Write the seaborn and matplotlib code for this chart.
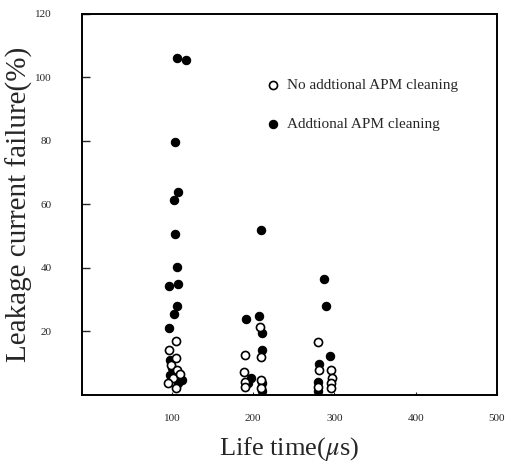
import matplotlib
matplotlib.use("Agg")
import matplotlib.pyplot as plt
import seaborn as sns
import pandas as pd

# No additional APM cleaning (open circles)
open_x = [104.9, 96.3, 104.9, 98.8, 106.2, 101.2, 95.1, 104.9, 110.0,
          208.3, 189.8, 209.5, 188.6, 189.8, 189.8, 209.5, 209.5,
          279.7, 280.9, 295.7, 296.9, 295.7, 279.7, 295.7]
open_y = [16.8, 14.0, 11.5, 9.3, 7.7, 5.2, 3.6, 2.0, 6.5,
          21.3, 12.4, 11.8, 7.1, 4.1, 2.4, 4.6, 2.0,
          16.5, 7.7, 7.7, 5.2, 3.6, 2.4, 2.0]

# Additional APM cleaning (filled circles)
fill_x = [106.2, 117.2, 103.7, 107.4, 102.5, 103.7, 106.2, 96.3, 107.4,
          106.2, 102.5, 96.3, 97.5, 100.0, 97.5, 108.6, 112.3, 107.4,
          209.5, 191.1, 207.1, 210.8, 210.8, 197.2, 193.5, 210.8, 210.8,
          287.1, 289.5, 294.5, 280.9, 279.7, 279.7]
fill_y = [106.0, 105.3, 79.5, 63.8, 61.3, 50.6, 40.2, 34.2, 34.8,
          27.9, 25.4, 21.0, 10.9, 8.3, 6.1, 5.5, 4.6, 3.6,
          51.8, 23.8, 24.7, 19.4, 14.0, 5.3, 3.6, 3.6, 1.0,
          36.4, 27.9, 12.1, 9.6, 4.0, 1.1]

x_ticks = [100, 200, 300, 400, 500]
y_ticks = [20, 40, 60, 80, 100, 120]
labels = ["No addtional APM cleaning", "Addtional APM cleaning"]

df_open = pd.DataFrame({"x": open_x, "y": open_y})
df_fill = pd.DataFrame({"x": fill_x, "y": fill_y})

sns.set_style("ticks")
plt.rcParams["font.family"] = ["Liberation Serif", "DejaVu Serif"]
plt.rcParams["mathtext.fontset"] = "stix"

fig = plt.figure(figsize=(5.06, 4.68), dpi=100)
ax = fig.add_axes([0.162, 0.157, 0.820, 0.814])

sns.scatterplot(data=df_fill, x="x", y="y", ax=ax, s=36, color="black",
                edgecolor="black", linewidth=0.8, label=labels[1], zorder=3)
sns.scatterplot(data=df_open, x="x", y="y", ax=ax, s=34, color="white",
                edgecolor="black", linewidth=1.2, label=labels[0], zorder=4)

ax.set_xlim(-11, 500)
ax.set_ylim(0, 120)
ax.set_xticks(x_ticks)
ax.set_yticks(y_ticks)
ax.set_xticklabels([str(v) for v in x_ticks], fontsize=8)
ax.set_yticklabels([str(v) for v in y_ticks], fontsize=8)
ax.tick_params(axis="y", direction="in", length=6, width=1.0, pad=22)
ax.tick_params(axis="x", direction="in", length=2, width=0.8, pad=14)
for sp in ax.spines.values():
    sp.set_visible(True)
    sp.set_linewidth(1.4)
    sp.set_color("black")

ax.set_xlabel(r"Life time($\mu$s)", fontsize=19, labelpad=9)
ax.set_ylabel("Leakage current failure(%)", fontsize=21, labelpad=1)

h, l = ax.get_legend_handles_labels()
ax.legend([h[1], h[0]], [l[1], l[0]], loc="upper left",
          bbox_to_anchor=(0.41, 0.865), frameon=False, fontsize=11,
          labelspacing=1.6, handletextpad=0.4, handlelength=1.0)

fig.savefig("out.png", dpi=100)
